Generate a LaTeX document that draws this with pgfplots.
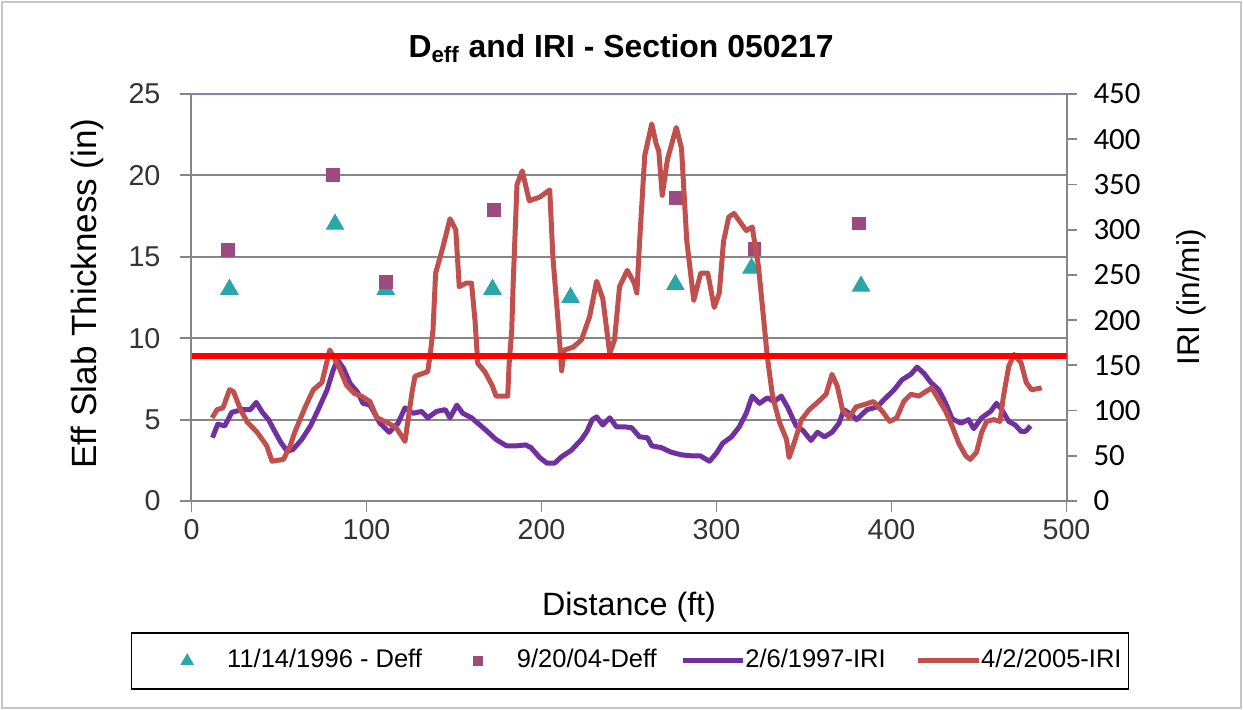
\documentclass[border=0pt]{standalone}
\usepackage{pgfplots}
\pgfplotsset{compat=1.18}
\usepackage{fontspec}
\setmainfont{Liberation Sans}
\newfontfamily\carlito{Carlito}
\definecolor{tri}{RGB}{42,165,170}
\definecolor{sqr}{RGB}{155,75,125}
\definecolor{pur}{RGB}{112,48,160}
\definecolor{redl}{RGB}{192,80,77}
\definecolor{thr}{RGB}{255,0,0}
\definecolor{topc}{RGB}{150,120,180}
\definecolor{axg}{RGB}{134,134,134}
\pgfplotsset{
  legtri/.style={legend image code/.code={\path[draw=none] (-28bp,0bp) -- (20bp,0bp); \draw[##1] plot coordinates {(0bp,0bp)};}},
  legsqr/.style={legend image code/.code={\path[draw=none] (-28bp,0bp) -- (19.5bp,0bp); \draw[##1] plot coordinates {(0bp,0bp)};}},
  legpur/.style={legend image code/.code={\path[draw=none] (-13bp,0bp) -- (31bp,0bp); \draw[##1] (0bp,0bp) -- (30bp,0bp);}},
  legred/.style={legend image code/.code={\path[draw=none] (-16bp,0bp) -- (31.5bp,0bp); \draw[##1] (0bp,0bp) -- (30.5bp,0bp);}},
}
\begin{document}
\begin{tikzpicture}
\useasboundingbox (-95.75bp,-104.5bp) rectangle (525.75bp,250.5bp);
\draw[gray!45, line width=1bp] (-94.5bp,-103.5bp) rectangle (524.5bp,249.5bp);
\begin{axis}[
  at={(0bp,0bp)}, anchor=south west, scale only axis,
  width=437.5bp, height=203.5bp,
  xmin=0, xmax=500, ymin=0, ymax=25,
  axis x line*=bottom, axis y line*=left,
  x axis line style={-}, y axis line style={-},
  axis line style={draw=axg, line width=1bp},
  xtick={0,100,...,500}, ytick={0,5,...,25},
  xtick pos=bottom, ytick pos=left,
  tick align=outside, major tick length=5.5bp,
  tick style={draw=axg, line width=0.9bp},
  ymajorgrids, grid style={draw=axg, line width=0.9bp},
  /pgf/number format/assume math mode=true,
  ticklabel style={font=\fontsize{14.4}{16}\selectfont, text=black!80},
  yticklabel style={xshift=-6.5bp},
  xticklabel style={yshift=0bp},
  xlabel={Distance (ft)},
  xlabel style={at={(axis description cs:0.5,-0.26)}, anchor=center, font=\fontsize{16.2}{18}\selectfont},
  ylabel={Eff Slab Thickness (in)},
  ylabel style={at={(axis description cs:-0.119,0.51)}, anchor=center, font=\fontsize{17.6}{20}\selectfont},
  title={\textbf{D\textsubscript{eff} and IRI - Section 050217}},
  title style={at={(axis description cs:0.491,1.083)}, anchor=center, font=\fontsize{16}{18}\selectfont},
]
\draw[topc, line width=1.2bp] (rel axis cs:0,1) -- (rel axis cs:1,1);
\addplot[only marks, mark=triangle*, mark size=5bp, color=tri] coordinates {
(21.7,13.0) (82,17.0) (111,13.0) (172,13.0) (216.6,12.5) (276.5,13.3) (320,14.3) (382.6,13.2)};
\addplot[only marks, mark=square*, mark size=3.2bp, color=sqr] coordinates {
(21,15.4) (81,20.05) (111,13.45) (172.7,17.9) (277,18.6) (321.6,15.5) (381.4,17.05)};
\end{axis}
\begin{axis}[
  at={(0bp,0bp)}, anchor=south west, scale only axis,
  width=437.5bp, height=203.5bp,
  xmin=0, xmax=500, ymin=0, ymax=450,
  axis x line=none, axis y line*=right,
  y axis line style={-},
  axis line style={draw=axg, line width=1bp},
  ytick={0,50,...,450}, ytick pos=right,
  tick align=outside, major tick length=5bp,
  tick style={draw=axg, line width=0.9bp},
  /pgf/number format/assume math mode=true,
  yticklabel style={font=\carlito\fontsize{15.5}{17}\selectfont, text=black, xshift=5bp},
  ylabel={IRI (in/mi)},
  ylabel style={at={(axis description cs:1.143,0.5)}, anchor=center, font=\fontsize{15.8}{18}\selectfont},
  legend columns=4,
  legend style={at={(-0.0697,-0.393)}, anchor=west, draw=black, line width=0.7bp,
    inner xsep=0pt, inner ysep=8bp, fill=white,
    nodes={inner sep=0pt, text height=9.5bp, text depth=2.5bp},
    font=\fontsize{12.8}{14}\selectfont, /tikz/column sep=0pt},
  legend cell align=left,
]
\addlegendimage{only marks, mark=triangle*, mark size=3.2bp, color=tri, legtri}
\addlegendentry{11/14/1996 - Deff}
\addlegendimage{only marks, mark=square*, mark size=2.3bp, color=sqr, legsqr}
\addlegendentry{9/20/04-Deff}
\addplot[pur, line width=2.5bp, line join=round, legpur] coordinates {
(12,70) (15,85) (19,83) (23,98) (29,101) (33.6,101) (37,109) (40.5,98) (44,90) (47,79) (51,65) (54.7,55) (58,57) (63,68) (68,83) (72.4,101) (77.5,123) (81,145) (83.5,156) (87,146) (90.6,130) (95,120) (98,108) (102,106) (107.7,86) (113,76) (118,86) (122,103) (126.6,97) (131.5,99) (135,92) (140,99) (145,101) (147.7,92) (151.6,106) (155,97) (160,92) (164.8,84) (169,77) (174,68) (180,61) (185.8,61) (191,62) (194,59) (199,48) (203,42) (207.6,42) (211.5,49) (217,56) (222.8,68) (226,77) (229,90) (231.5,93) (235,84) (239,92) (242.8,82) (247.4,82) (251.5,81) (256,71) (260.5,70) (263,61) (268.5,59) (274,54) (280,51) (285.5,50) (290.6,50) (296,44) (300,53) (303.6,64) (308.6,71) (313,82) (317,97) (320.4,116) (324.6,108) (329,114) (333,110) (337,116) (340.8,103) (345.5,83) (349.4,78) (354,67) (357.7,76) (361.7,71) (366,76) (370,86) (372.8,101) (377.4,95) (380,90) (386,101) (391.7,104) (395.7,112) (401.5,123) (406,134) (411,140) (414.6,148) (418.6,141) (422.5,131) (427,123) (431,108) (434.6,91) (439.7,86) (444,90) (447,80) (451.5,92) (456.6,99) (460,108) (463,101) (467,88) (470.7,84) (474,77) (476.6,77) (479.5,83)};
\addlegendentry{2/6/1997-IRI}
\addplot[redl, line width=2.5bp, line join=round, legred] coordinates {
(11.8,92) (14.6,101) (18,103) (21.7,123) (24,121) (28,101) (32,87) (37.5,76) (43,61) (46,44) (52.5,46) (56.4,61) (59,76) (65,104) (69.6,123) (74.5,131) (79,167) (83.8,150) (88.6,128) (93,119) (97,116) (102,110) (106,92) (111.6,87) (117,81) (122,66) (126,120) (127.7,138) (135,143) (136.5,164) (138,189) (139.5,252) (143.7,281) (147.7,312) (151,300) (153,237) (157,241) (160,241) (162,200) (163.6,152) (167.6,143) (172,127) (174,116) (180.7,116) (181.5,152) (183,189) (183.8,240) (186,350) (189,365) (193,332) (199,336) (204.7,344) (206.5,270) (210,186) (211.5,144) (213,167) (218,170) (222.8,178) (227.5,204) (231.5,243) (235,224) (239,163) (241.7,178) (244.6,237) (249,255) (253,241) (254.5,230) (256,285) (259,382) (263,417) (265.5,395) (267,387) (269,338) (272,378) (277,413) (280,390) (283,288) (287,222) (291,252) (295,252) (298.7,214) (301.6,230) (304,287) (307,314) (310,318) (317,299) (320.4,303) (324,259) (327,200) (329,160) (332,116) (336,87) (340,68) (341.5,48) (344.5,65) (348.6,90) (353,101) (357.7,109) (362.6,118) (366,140) (369,127) (372,101) (375.7,92) (379.7,104) (385,107) (389.7,110) (394.8,99) (399,88) (403,92) (407,110) (411,118) (415.6,116) (419.6,121) (423,125) (427,112) (431,99) (434.6,83) (438.4,64) (442.4,50) (445,46) (448.6,54) (451.5,76) (454.4,88) (458.4,90) (462,88) (464,116) (467,149) (470,162) (472.6,156) (474,153) (477,131) (480,123) (485.8,125)};
\addlegendentry{4/2/2005-IRI\hspace*{3.5bp}}
\addplot[thr, line width=3.2bp, forget plot] coordinates {(0,160) (500,160)};
\end{axis}
\end{tikzpicture}
\end{document}
